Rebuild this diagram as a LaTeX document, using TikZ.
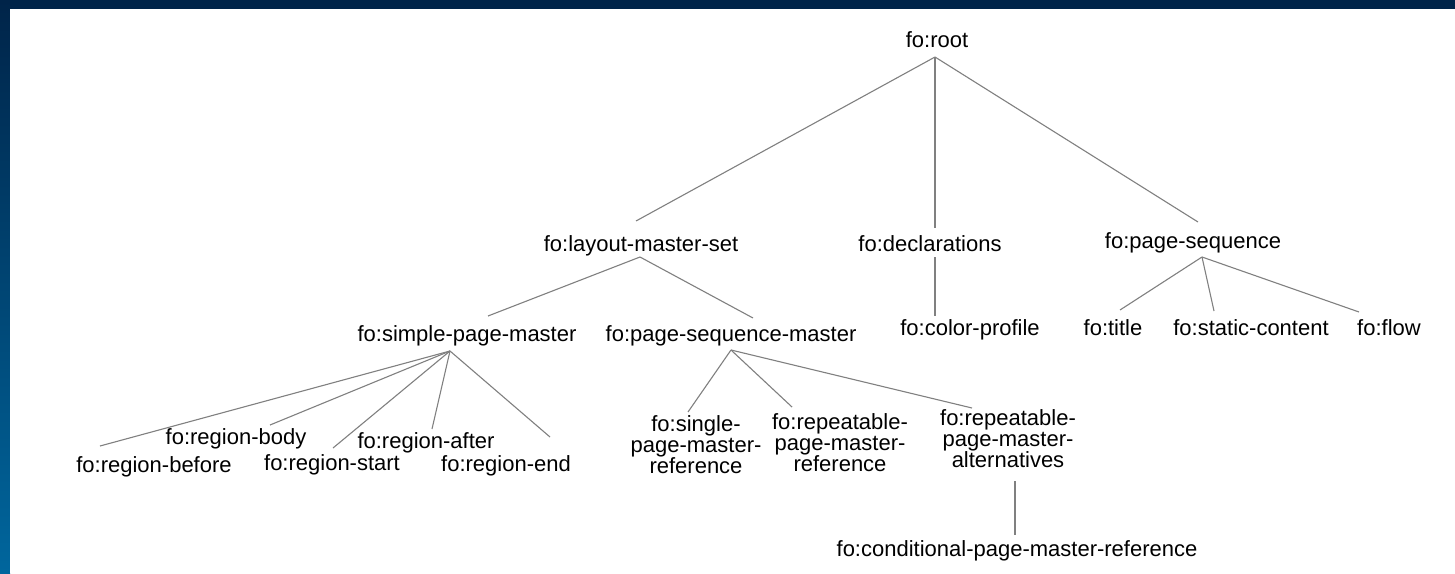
\documentclass[tikz,border=0pt]{standalone}
\usepackage{fontspec}
\setmainfont{Liberation Sans}
\definecolor{navy}{HTML}{002449}
\definecolor{bandblue}{HTML}{00669D}
\definecolor{edgegray}{HTML}{808080}
\begin{document}
\begin{tikzpicture}[x=1pt,y=-1pt,
  lab/.style={inner sep=0pt,anchor=base,font=\fontsize{22}{21}\selectfont,text=black},
  mlab/.style={inner sep=0pt,anchor=north,align=center,font=\fontsize{22}{21}\selectfont,text=black},
  edge/.style={draw=edgegray,line width=1.1pt}]
\useasboundingbox (0,0) rectangle (1455,573);
\fill[navy] (0,0) rectangle (1455,9);
\shade[top color=navy,bottom color=bandblue] (0,0) rectangle (10,573);
\fill[white] (10,9) rectangle (1455,573);

% nodes
\node[lab] (root) at (937,47) {fo:root};
\node[lab] (lms) at (641,251) {fo:layout-master-set};
\node[lab] (decl) at (930,251) {fo:declarations};
\node[lab] (ps) at (1193,248) {fo:page-sequence};
\node[lab] (spm) at (467,341) {fo:simple-page-master};
\node[lab] (psm) at (731,341) {fo:page-sequence-master};
\node[lab] (cp) at (970,335) {fo:color-profile};
\node[lab] (title) at (1113,335) {fo:title};
\node[lab] (sc) at (1251,335) {fo:static-content};
\node[lab] (flow) at (1389,335) {fo:flow};
\node[lab] (rbef) at (154,472) {fo:region-before};
\node[lab] (rbody) at (236,444) {fo:region-body};
\node[lab] (rstart) at (332,470) {fo:region-start};
\node[lab] (rafter) at (426,448) {fo:region-after};
\node[lab] (rend) at (506,471) {fo:region-end};
\node[mlab] (spmr) at (696,415) {fo:single-\\page-master-\\reference};
\node[mlab] (rpmr) at (840,413) {fo:repeatable-\\page-master-\\reference};
\node[mlab] (rpma) at (1008,409) {fo:repeatable-\\page-master-\\alternatives};
\node[lab] (cpmr) at (1017,556) {fo:conditional-page-master-reference};

% connector end points
\coordinate (rootS) at (935,57);
\coordinate (lmsN) at (636,221);
\coordinate (declN) at (935,228);
\coordinate (psN) at (1198,222);
\coordinate (lmsS) at (640,257);
\coordinate (spmN) at (488,316);
\coordinate (psmN) at (753,318);
\coordinate (declS) at (935,257);
\coordinate (cpN) at (935,316);
\coordinate (psS) at (1202,257);
\coordinate (titleN) at (1120,310);
\coordinate (scN) at (1214,311);
\coordinate (flowN) at (1359,312);
\coordinate (spmS) at (450,351);
\coordinate (rbefN) at (100,446);
\coordinate (rbodyN) at (270,425);
\coordinate (rstartN) at (333,448);
\coordinate (rafterN) at (432,429);
\coordinate (rendN) at (550,437);
\coordinate (psmS) at (731,350);
\coordinate (spmrN) at (688,412);
\coordinate (rpmrN) at (792,407);
\coordinate (rpmaN) at (972,408);
\coordinate (rpmaS) at (1015,481);
\coordinate (cpmrN) at (1015,535);

\draw[edge] (rootS) -- (lmsN);
\draw[edge] (rootS) -- (declN);
\draw[edge] (rootS) -- (psN);
\draw[edge] (lmsS) -- (spmN);
\draw[edge] (lmsS) -- (psmN);
\draw[edge] (declS) -- (cpN);
\draw[edge] (psS) -- (titleN);
\draw[edge] (psS) -- (scN);
\draw[edge] (psS) -- (flowN);
\draw[edge] (spmS) -- (rbefN);
\draw[edge] (spmS) -- (rbodyN);
\draw[edge] (spmS) -- (rstartN);
\draw[edge] (spmS) -- (rafterN);
\draw[edge] (spmS) -- (rendN);
\draw[edge] (psmS) -- (spmrN);
\draw[edge] (psmS) -- (rpmrN);
\draw[edge] (psmS) -- (rpmaN);
\draw[edge] (rpmaS) -- (cpmrN);
\end{tikzpicture}
\end{document}
